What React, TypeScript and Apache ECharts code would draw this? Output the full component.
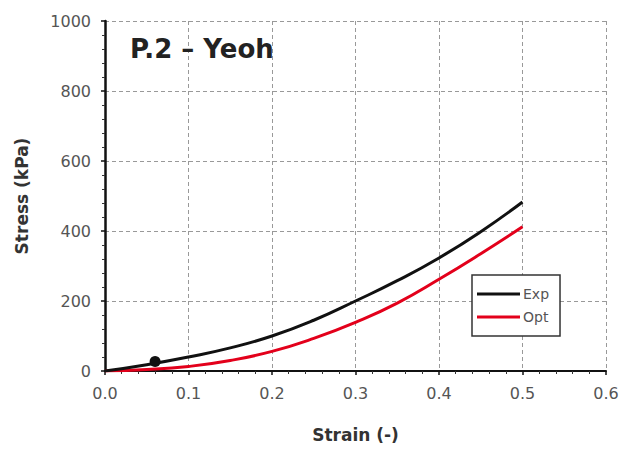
import React, { useEffect, useRef } from "react";
import * as echarts from "echarts";

const strain = [0, 0.05, 0.1, 0.15, 0.2, 0.25, 0.3, 0.35, 0.4, 0.45, 0.5];
const expStress = [0, 18, 40, 66, 100, 145, 200, 258, 323, 398, 483];
const optStress = [0, 4, 13, 30, 56, 93, 139, 194, 262, 335, 412];
const markerPoint = [[0.06, 27]];
const titleText = "P.2 – Yeoh";

export default function App() {
  const ref = useRef<HTMLDivElement>(null);
  useEffect(() => {
    if (!ref.current) return;
    const chart = echarts.init(ref.current, null, { renderer: "svg" });
    const font = "DejaVu Sans";
    chart.setOption({
      animation: false,
      backgroundColor: "#ffffff",
      title: {
        text: titleText,
        left: 125,
        top: 31,
        textStyle: { fontFamily: font, fontSize: 26, fontWeight: "bold", color: "#222" },
      },
      grid: { left: 105, right: 16, top: 21, bottom: 80, containLabel: false },
      legend: {
        orient: "vertical",
        left: 472,
        top: 275,
        data: [
          { name: "Exp", icon: "rect" },
          { name: "Opt", icon: "rect" },
        ],
        itemWidth: 43,
        itemHeight: 3,
        itemGap: 9,
        padding: [12, 11, 12, 5],
        borderColor: "#333",
        borderWidth: 1.5,
        backgroundColor: "#fff",
        textStyle: {
          fontFamily: font,
          fontSize: 14,
          lineHeight: 14,
          color: "#555",
          padding: [0, 0, 0, -2],
        },
      },
      xAxis: {
        type: "value",
        min: 0,
        max: 0.6,
        interval: 0.1,
        name: "Strain (-)",
        nameLocation: "middle",
        nameGap: 55,
        nameTextStyle: { fontFamily: font, fontSize: 17, fontWeight: "bold", color: "#333" },
        axisLine: { show: true, onZero: false, lineStyle: { color: "#111", width: 2 } },
        axisTick: { show: true, inside: false, length: 4, lineStyle: { color: "#111", width: 1.5 } },
        minorTick: { show: true, splitNumber: 5, length: 3, lineStyle: { color: "#333" } },
        axisLabel: {
          margin: 14,
          fontFamily: font,
          fontSize: 16,
          color: "#555",
          formatter: (v: number) => v.toFixed(1),
        },
        splitLine: { show: true, lineStyle: { color: "#999", width: 1, type: [4, 3] } },
      },
      yAxis: {
        type: "value",
        min: 0,
        max: 1000,
        interval: 200,
        name: "Stress (kPa)",
        nameLocation: "middle",
        nameGap: 75,
        nameTextStyle: { fontFamily: font, fontSize: 17, fontWeight: "bold", color: "#333" },
        axisLine: { show: true, onZero: false, lineStyle: { color: "#111", width: 2.5 } },
        axisTick: { show: true, inside: false, length: 4, lineStyle: { color: "#111", width: 1.5 } },
        minorTick: { show: true, splitNumber: 5, length: 3, lineStyle: { color: "#333" } },
        axisLabel: {
          margin: 14,
          fontFamily: font,
          fontSize: 16,
          color: "#555",
          formatter: (v: number) => String(v),
        },
        splitLine: { show: true, lineStyle: { color: "#999", width: 1, type: [4, 3] } },
      },
      series: [
        {
          name: "Exp",
          type: "line",
          smooth: true,
          symbol: "none",
          data: strain.map((s, i) => [s, expStress[i]]),
          lineStyle: { color: "#111", width: 3 },
          itemStyle: { color: "#111" },
          z: 3,
        },
        {
          name: "Opt",
          type: "line",
          smooth: true,
          symbol: "none",
          data: strain.map((s, i) => [s, optStress[i]]),
          lineStyle: { color: "#e3001b", width: 3 },
          itemStyle: { color: "#e3001b" },
          z: 2,
        },
        {
          name: "marker",
          type: "scatter",
          data: markerPoint,
          symbolSize: 11,
          itemStyle: { color: "#111", opacity: 1 },
          z: 4,
        },
      ],
    });
    return () => chart.dispose();
  }, []);
  return <div ref={ref} style={{ width: 622, height: 451, position: "absolute", left: 0, top: 0 }} />;
}
